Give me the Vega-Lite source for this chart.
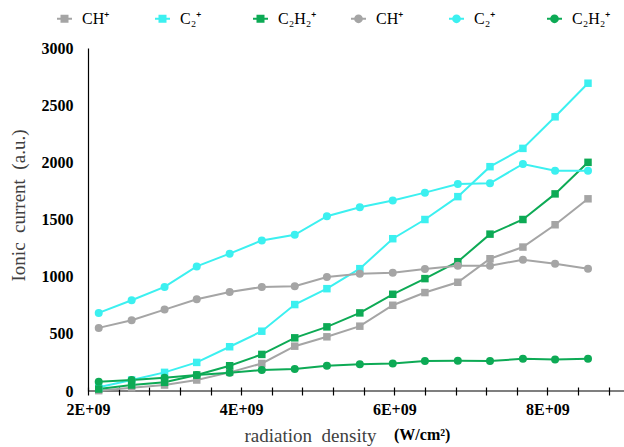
{
  "$schema": "https://vega.github.io/schema/vega-lite/v6.json",
  "autosize": "none",
  "width": 536,
  "height": 343,
  "padding": {"left": 88, "top": 48, "right": 0, "bottom": 56},
  "background": "white",
  "config": {"view": {"stroke": null}, "font": "Liberation Serif"},
  "title": {"text": "(W/cm²)", "orient": "bottom", "anchor": "start", "frame": "group", "dx": 306, "offset": -18, "fontSize": 16, "fontWeight": "bold", "color": "black", "font": "Liberation Serif"},
  "layer": [
    {
      "data": {"values": [{"v": 0}]},
      "mark": {"type": "rule", "color": "black", "strokeWidth": 1.2},
      "encoding": {"y": {"field": "v", "type": "quantitative", "scale": {"domain": [0, 3000], "nice": false},
          "axis": {"values": [0, 500, 1000, 1500, 2000, 2500, 3000], "format": "d", "ticks": false, "grid": false, "domainColor": "black", "domainWidth": 1.2,
            "labelPadding": 15, "labelFontSize": 16, "labelFontWeight": "bold", "labelColor": "black", "labelFont": "Liberation Serif",
            "title": "Ionic\u00a0 current\u00a0 (a.u.)", "titleFontSize": 19, "titleFontWeight": "normal", "titleColor": "#404040", "titleFont": "Liberation Serif",
            "titleX": -70, "titleY": 157, "titleAngle": 270, "titleAlign": "center", "titleBaseline": "middle"}}}
    },
    {
      "data": {"name": "main", "values": [
        {"x": 2140000000, "CHs": 3, "C2s": 32, "C2H2s": 17, "CHc": 552, "C2c": 683, "C2H2c": 81},
        {"x": 2570000000, "CHs": 29, "C2s": 96, "C2H2s": 52, "CHc": 619, "C2c": 794, "C2H2c": 96},
        {"x": 3000000000, "CHs": 52, "C2s": 163, "C2H2s": 76, "CHc": 712, "C2c": 910, "C2H2c": 116},
        {"x": 3420000000, "CHs": 96, "C2s": 250, "C2H2s": 140, "CHc": 802, "C2c": 1090, "C2H2c": 140},
        {"x": 3850000000, "CHs": 163, "C2s": 387, "C2H2s": 221, "CHc": 866, "C2c": 1201, "C2H2c": 160},
        {"x": 4270000000, "CHs": 241, "C2s": 523, "C2H2s": 320, "CHc": 910, "C2c": 1317, "C2H2c": 183},
        {"x": 4700000000, "CHs": 392, "C2s": 756, "C2H2s": 465, "CHc": 916, "C2c": 1366, "C2H2c": 192},
        {"x": 5120000000, "CHs": 474, "C2s": 895, "C2H2s": 561, "CHc": 997, "C2c": 1529, "C2H2c": 221},
        {"x": 5550000000, "CHs": 567, "C2s": 1070, "C2H2s": 683, "CHc": 1026, "C2c": 1607, "C2H2c": 233},
        {"x": 5980000000, "CHs": 750, "C2s": 1332, "C2H2s": 846, "CHc": 1035, "C2c": 1666, "C2H2c": 241},
        {"x": 6400000000, "CHs": 861, "C2s": 1500, "C2H2s": 983, "CHc": 1067, "C2c": 1735, "C2H2c": 262},
        {"x": 6830000000, "CHs": 951, "C2s": 1700, "C2H2s": 1131, "CHc": 1096, "C2c": 1811, "C2H2c": 264},
        {"x": 7250000000, "CHs": 1157, "C2s": 1962, "C2H2s": 1372, "CHc": 1096, "C2c": 1817, "C2H2c": 262},
        {"x": 7680000000, "CHs": 1259, "C2s": 2122, "C2H2s": 1500, "CHc": 1148, "C2c": 1986, "C2H2c": 282},
        {"x": 8100000000, "CHs": 1454, "C2s": 2398, "C2H2s": 1724, "CHc": 1113, "C2c": 1927, "C2H2c": 276},
        {"x": 8530000000, "CHs": 1681, "C2s": 2692, "C2H2s": 2000, "CHc": 1070, "C2c": 1927, "C2H2c": 282}
      ]},
      "transform": [{"fold": ["CHs", "C2s", "C2H2s", "CHc", "C2c", "C2H2c"], "as": ["series", "value"]}],
      "encoding": {
        "x": {"field": "x", "type": "quantitative", "scale": {"domain": [2000000000, 9000000000], "nice": false, "zero": false},
          "axis": {"values": [2000000000, 2400000000, 2800000000, 3200000000, 3600000000, 4000000000, 4400000000, 4800000000, 5200000000, 5600000000, 6000000000, 6400000000, 6800000000, 7200000000, 7600000000, 8000000000, 8400000000, 8800000000],
            "labelExpr": "datum.value % 2000000000 == 0 ? (datum.value / 1000000000) + 'E+09' : ''",
            "offset": -4, "tickSize": 8, "tickColor": "black", "tickWidth": 1.2, "domain": false, "grid": false,
            "labelPadding": 6, "labelFontSize": 16, "labelFontWeight": "bold", "labelColor": "black", "labelFont": "Liberation Serif", "labelFlush": false, "labelOverlap": false,
            "title": "radiation\u00a0 density", "titleFontSize": 19, "titleFontWeight": "normal", "titleColor": "#404040", "titleFont": "Liberation Serif",
            "titleX": 222, "titleY": 48, "titleAlign": "center", "titleBaseline": "middle"}},
        "y": {"field": "value", "type": "quantitative", "scale": {"domain": [0, 3000], "nice": false},
          "axis": {"values": [0, 500, 1000, 1500, 2000, 2500, 3000], "format": "d", "ticks": false, "grid": false, "domainColor": "black", "domainWidth": 1.2,
            "labelPadding": 15, "labelFontSize": 16, "labelFontWeight": "bold", "labelColor": "black", "labelFont": "Liberation Serif",
            "title": "Ionic\u00a0 current\u00a0 (a.u.)", "titleFontSize": 19, "titleFontWeight": "normal", "titleColor": "#404040", "titleFont": "Liberation Serif",
            "titleX": -70, "titleY": 157, "titleAngle": 270, "titleAlign": "center", "titleBaseline": "middle"}},
        "color": {"field": "series", "type": "nominal",
          "scale": {"domain": ["CHs", "C2s", "C2H2s", "CHc", "C2c", "C2H2c"], "range": ["#A5A5A5", "#3CF0F0", "#0DAA55", "#A5A5A5", "#3CF0F0", "#0DAA55"]},
          "legend": {"orient": "none", "legendX": -32, "legendY": -38, "direction": "horizontal", "columns": 6, "gridAlign": "all", "columnPadding": 30, "title": null, "padding": 0,
            "labelFontSize": 16, "labelFont": "Liberation Serif", "labelColor": "black", "labelOffset": 9, "symbolSize": 225,
            "labelExpr": "indexof(['CHs','CHc'], datum.value) >= 0 ? 'CH⁺' : indexof(['C2s','C2c'], datum.value) >= 0 ? 'C₂⁺' : 'C₂H₂⁺'",
            "encode": {"symbols": {"update": {
              "shape": {"signal": "indexof(['CHs','C2s','C2H2s'], datum.value) >= 0 ? 'M-1,0H1M-0.4,-0.4H0.4V0.4H-0.4Z' : 'M-1,0H1M0.45,0A0.45,0.45,0,1,1,-0.45,0A0.45,0.45,0,1,1,0.45,0Z'"},
              "fill": {"scale": "color", "field": "value"},
              "stroke": {"scale": "color", "field": "value"},
              "strokeWidth": {"value": 2},
              "opacity": {"value": 1},
              "size": {"value": 225}}}}}
        }
      },
      "layer": [
        {"mark": {"type": "line", "strokeWidth": 2}},
        {"transform": [{"filter": {"field": "series", "oneOf": ["CHs", "C2s", "C2H2s"]}}],
          "mark": {"type": "point", "shape": "square", "filled": true, "opacity": 1, "size": 56}},
        {"transform": [{"filter": {"field": "series", "oneOf": ["CHc", "C2c", "C2H2c"]}}],
          "mark": {"type": "point", "shape": "circle", "filled": true, "opacity": 1, "size": 64}}
      ]
    }
  ]
}
